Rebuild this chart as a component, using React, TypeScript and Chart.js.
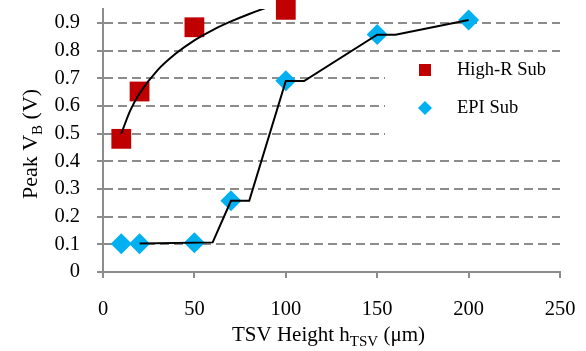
import React, { useEffect, useRef } from "react";
import { Chart, registerables } from "chart.js";

Chart.register(...registerables);

// Data
const highRX = [10, 20, 50, 100];
const highRY = [0.481, 0.652, 0.884, 0.947];
const epiX = [10, 20, 50, 70, 100, 150, 200];
const epiY = [0.102, 0.102, 0.106, 0.257, 0.691, 0.858, 0.91];
// Trend lines (vertices)
const highRTrendX = [10, 15, 20, 30, 40, 50, 60, 70, 80, 95];
const highRTrendY = [0.5, 0.585, 0.645, 0.73, 0.79, 0.837, 0.874, 0.905, 0.932, 0.968];
const epiTrendX = [20, 60, 70, 80, 100, 110, 150, 160, 200];
const epiTrendY = [0.103, 0.107, 0.257, 0.257, 0.69, 0.69, 0.857, 0.857, 0.91];
const xTicks = [0, 50, 100, 150, 200, 250];
const yTicks = [0, 0.1, 0.2, 0.3, 0.4, 0.5, 0.6, 0.7, 0.8, 0.9];
const legendLabels = ["High-R Sub", "EPI Sub"];

const RED = "#c00000";
const BLUE = "#00b0f0";
const GRID = "#8c8c8c";
const FONT = "'Liberation Serif', 'Times New Roman', serif";

const pts = (xs: number[], ys: number[]) => xs.map((x, i) => ({ x, y: ys[i] }));

type Part = [string, boolean];
function drawRich(
  ctx: CanvasRenderingContext2D,
  parts: Part[],
  cx: number,
  baseY: number,
  rot: number,
  mainSize: number,
  subSize: number
) {
  const main = `${mainSize}px ${FONT}`;
  const sub = `${subSize}px ${FONT}`;
  let total = 0;
  const widths = parts.map(([t, s]) => {
    ctx.font = s ? sub : main;
    const w = ctx.measureText(t).width;
    total += w;
    return w;
  });
  ctx.save();
  ctx.translate(cx, baseY);
  ctx.rotate(rot);
  ctx.fillStyle = "#000";
  ctx.textBaseline = "alphabetic";
  ctx.textAlign = "left";
  let x = -total / 2;
  parts.forEach(([t, s], i) => {
    ctx.font = s ? sub : main;
    ctx.fillText(t, x, s ? 5 : 0);
    x += widths[i];
  });
  ctx.restore();
}

const decorPlugin = {
  id: "decor",
  beforeDatasetsDraw(chart: any) {
    const ctx = chart.ctx as CanvasRenderingContext2D;
    ctx.save();
    ctx.fillStyle = "#ffffff";
    ctx.fillRect(385, 57, 178, 98);
    // legend markers
    ctx.fillStyle = RED;
    ctx.fillRect(419, 64, 12, 12);
    ctx.fillStyle = BLUE;
    ctx.beginPath();
    ctx.moveTo(425 - 7, 108);
    ctx.lineTo(425, 108 - 7);
    ctx.lineTo(425 + 7, 108);
    ctx.lineTo(425, 108 + 7);
    ctx.closePath();
    ctx.fill();
    ctx.fillStyle = "#000";
    ctx.font = `18.5px ${FONT}`;
    ctx.textBaseline = "middle";
    ctx.textAlign = "left";
    ctx.fillText(legendLabels[0], 457, 70);
    ctx.fillText(legendLabels[1], 457, 108);
    ctx.restore();
  },
  afterDraw(chart: any) {
    const ctx = chart.ctx as CanvasRenderingContext2D;
    const a = chart.chartArea;
    drawRich(ctx, [["TSV Height h", false], ["TSV", true], [" (\u03bcm)", false]], (a.left + a.right) / 2 - 3, 341, 0, 21, 15);
    ctx.save();
    ctx.translate(37, 144);
    drawRich(ctx, [["Peak V", false], ["B", true], [" (V)", false]], 0, 0, -Math.PI / 2, 22, 15);
    ctx.restore();
  },
};

export default function App() {
  const ref = useRef<HTMLCanvasElement | null>(null);
  useEffect(() => {
    document.body.style.margin = "0";
    const chart = new Chart(ref.current as HTMLCanvasElement, {
      type: "scatter",
      data: {
        datasets: [
          {
            label: "High-R trend",
            data: pts(highRTrendX, highRTrendY),
            showLine: true,
            borderColor: "#000",
            borderWidth: 2,
            pointRadius: 0,
            tension: 0.4,
            cubicInterpolationMode: "monotone",
            order: 0,
          },
          {
            label: "EPI trend",
            data: pts(epiTrendX, epiTrendY),
            showLine: true,
            borderColor: "#000",
            borderWidth: 2,
            pointRadius: 0,
            tension: 0,
            order: 0,
          },
          {
            label: legendLabels[0],
            data: pts(highRX, highRY),
            pointStyle: "rect",
            pointRadius: 14,
            backgroundColor: RED,
            borderColor: RED,
            borderWidth: 0,
            clip: false,
            order: 1,
          },
          {
            label: legendLabels[1],
            data: pts(epiX, epiY),
            pointStyle: "rectRot",
            pointRadius: 10.5,
            backgroundColor: BLUE,
            borderColor: BLUE,
            borderWidth: 0,
            clip: false,
            order: 1,
          },
        ] as any,
      },
      options: {
        animation: false,
        responsive: false,
        maintainAspectRatio: false,
        layout: { autoPadding: false, padding: { top: 9, right: 26, left: 0, bottom: 0 } },
        plugins: { legend: { display: false }, tooltip: { enabled: false } },
        scales: {
          x: {
            type: "linear",
            min: 0,
            max: 250,
            afterFit: (s: any) => { s.height = 79; s.paddingLeft = 0; s.paddingRight = 0; },
            afterBuildTicks: (s: any) => { s.ticks = xTicks.map((v) => ({ value: v })); },
            border: { color: GRID, width: 2 },
            grid: { drawOnChartArea: false, drawTicks: true, tickLength: 6, color: GRID, lineWidth: 2 },
            ticks: { color: "#000", font: { family: FONT, size: 20.5 }, padding: 19, maxRotation: 0, autoSkip: false },
          },
          y: {
            type: "linear",
            min: 0,
            max: 0.95,
            afterFit: (s: any) => { s.width = 103; s.paddingTop = 0; s.paddingBottom = 0; },
            afterBuildTicks: (s: any) => { s.ticks = yTicks.map((v) => ({ value: v })); },
            border: { color: GRID, width: 2, dash: [9, 5] },
            grid: { color: GRID, lineWidth: 2, tickBorderDash: [], tickLength: 6, drawTicks: true },
            ticks: {
              color: "#000",
              font: { family: FONT, size: 20.5 },
              padding: 17,
              autoSkip: false,
              callback: (v: any) => (Number(v) === 0 ? "0" : Number(v).toFixed(1)),
            },
          },
        },
      },
      plugins: [decorPlugin],
    });
    return () => chart.destroy();
  }, []);
  return (
    <div style={{ position: "absolute", left: 0, top: 0, width: 586, height: 351 }}>
      <canvas ref={ref} width={586} height={351} style={{ width: 586, height: 351 }} />
    </div>
  );
}
